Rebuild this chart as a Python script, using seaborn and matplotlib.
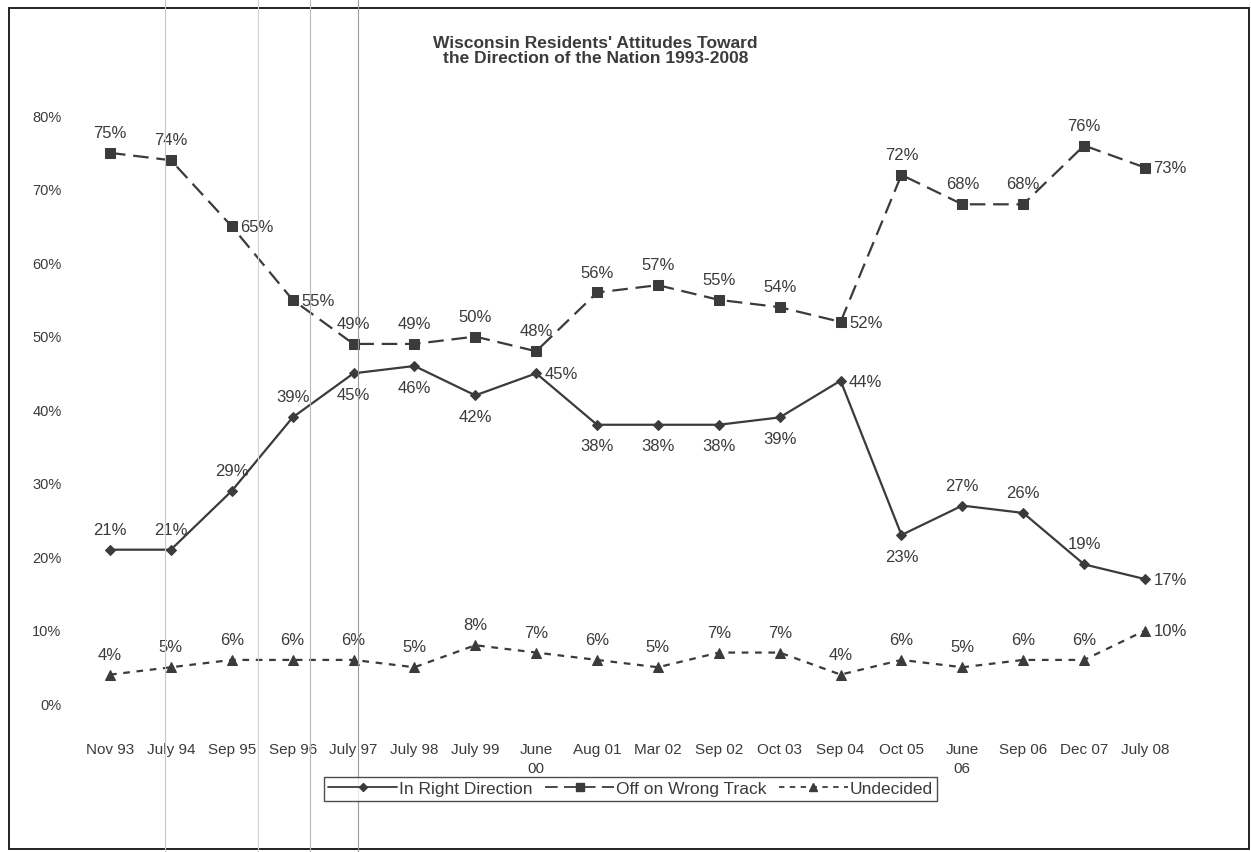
import matplotlib
matplotlib.use("Agg")
import matplotlib.pyplot as plt
from matplotlib.lines import Line2D
from matplotlib.patches import Rectangle
import seaborn as sns

# Survey waves and results (percent)
waves = ["Nov 93", "July 94", "Sep 95", "Sep 96", "July 97", "July 98", "July 99",
         "June\n00", "Aug 01", "Mar 02", "Sep 02", "Oct 03", "Sep 04", "Oct 05",
         "June\n06", "Sep 06", "Dec 07", "July 08"]
right_direction = [21, 21, 29, 39, 45, 46, 42, 45, 38, 38, 38, 39, 44, 23, 27, 26, 19, 17]
wrong_track = [75, 74, 65, 55, 49, 49, 50, 48, 56, 57, 55, 54, 52, 72, 68, 68, 76, 73]
undecided = [4, 5, 6, 6, 6, 5, 8, 7, 6, 5, 7, 7, 4, 6, 5, 6, 6, 10]
y_ticks = [0, 10, 20, 30, 40, 50, 60, 70, 80]

# Where each value label sits relative to its point: a=above, b=below, r=right
right_pos = list("aaaabbbrbbbbrbaaar")
wrong_pos = list("aarraaaaaaaaraaaar")
undec_pos = list("aaaaaaaaaaaaaaaaar")

sns.set_theme(style="white")
plt.rcParams["font.family"] = ["Liberation Sans", "DejaVu Sans"]

ink = "#3b3b3b"
fig = plt.figure(figsize=(12.51, 8.52), dpi=100)
ax = fig.add_axes([0.0636, 0.1737, 0.876, 0.690])

series = [
    ("In Right Direction", right_direction, "D", 5.5, (None, None), "-", right_pos),
    ("Off on Wrong Track", wrong_track, "s", 7, (7, 3.5), "--", wrong_pos),
    ("Undecided", undecided, "^", 7, (3, 3), "--", undec_pos),
]

handles = []
for name, vals, mk, ms, dash, ls, pos in series:
    sns.lineplot(x=waves, y=vals, sort=False, ax=ax, color=ink, linewidth=1.6,
                 marker=mk, markersize=ms, markeredgecolor=ink, markerfacecolor=ink,
                 linestyle=ls, dashes=False)
    line = ax.lines[-1]
    if dash[0] is not None:
        line.set_dashes(dash)
    handles.append(Line2D([], [], color=ink, linewidth=1.3, linestyle=ls,
                          dashes=dash if dash[0] is not None else (None, None),
                          marker=mk, markersize=ms * 0.8, markerfacecolor=ink,
                          markeredgecolor=ink))
    for i, (v, p) in enumerate(zip(vals, pos)):
        if p == "a":
            off, ha = (0, 14), "center"
        elif p == "b":
            off, ha = (0, -16), "center"
        else:
            off, ha = (6, -1), "left"
        ax.annotate(f"{v}%", (i, v), xytext=off, textcoords="offset points",
                    ha=ha, va="center", fontsize=12, color=ink)

ax.set_xlim(-0.5, len(waves) - 0.5)
ax.set_ylim(0, 80)
ax.set_yticks(y_ticks)
ax.set_yticklabels([f"{t}%" for t in y_ticks])
ax.tick_params(axis="y", length=0, pad=13, labelsize=10.5, labelcolor=ink)
ax.tick_params(axis="x", length=0, pad=28, labelsize=11, labelcolor=ink)
for lab in ax.get_xticklabels():
    lab.set_verticalalignment("top")
    lab.set_linespacing(1.45)
ax.set_xlabel("")
ax.set_ylabel("")
for s in ax.spines.values():
    s.set_visible(False)

fig.text(0.476, 0.940, "Wisconsin Residents' Attitudes Toward\nthe Direction of the Nation 1993-2008",
         ha="center", va="center", fontsize=12.5, fontweight="bold", color=ink,
         family=["Liberation Sans Narrow", "Liberation Sans", "DejaVu Sans"], linespacing=1.05)

leg = fig.legend(handles, [s[0] for s in series], loc="center", ncol=3,
                 bbox_to_anchor=(0.504, 0.074), frameon=True, fontsize=12.5,
                 handlelength=4.0, handletextpad=0.1, columnspacing=0.7,
                 borderpad=0.25, fancybox=False, labelcolor=ink)
leg.get_frame().set_edgecolor("#222222")
leg.get_frame().set_linewidth(1.0)

# Page frame
fig.patches.append(Rectangle((9 / 1251, 3 / 852), 1240 / 1251, 841 / 852,
                             transform=fig.transFigure, fill=False,
                             edgecolor="#222222", linewidth=1.4))

# Faint vertical creases running down the sheet
for xp, c in [(165, "#c8c8c8"), (258, "#d2d2d2"), (310, "#b8b8b8"), (358, "#9a9a9a")]:
    fig.add_artist(Line2D([xp / 1251, xp / 1251], [0, 1], transform=fig.transFigure,
                          color=c, linewidth=0.8))

fig.savefig("out.png", dpi=100, facecolor="white")
